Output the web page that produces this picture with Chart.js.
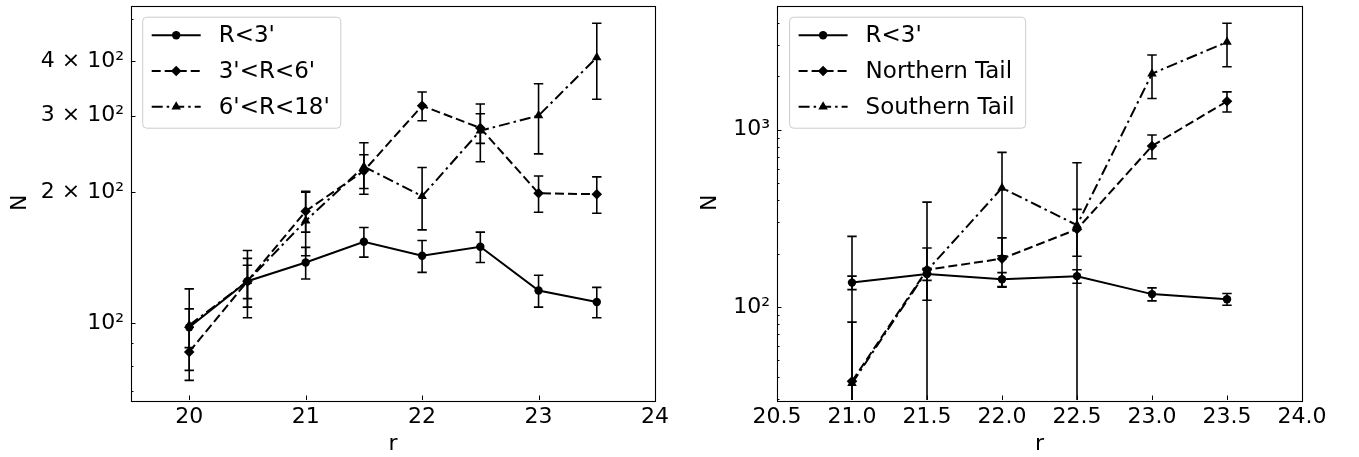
<!DOCTYPE html>
<html>
<head>
<meta charset="utf-8">
<script src="https://cdn.jsdelivr.net/npm/chart.js@4.4.1/dist/chart.umd.min.js"></script>
<style>
    html, body { margin: 0; padding: 0; background: #fff; }
    canvas { position: absolute; top: 0; }
    #leftChart { left: 0; }
    #rightChart { left: 680px; }
</style>
</head>
<body>
<canvas id="leftChart" width="680" height="457"></canvas>
<canvas id="rightChart" width="679" height="457"></canvas>
<script>
// ===========================
// Data
// ===========================

// left panel: radial bins
const magBins = [20, 20.5, 21, 21.5, 22, 22.5, 23, 23.5];
const innerN   = [98, 125, 138, 154, 143, 150, 119, 112];
const innerErr = [10, 11, 11.5, 12, 12, 12, 10, 9];
const midN     = [86, 125, 181, 224, 316, 281, 199, 198];
const midErr   = [12, 16, 19, 20, 24, 22, 19, 19];
const outerN   = [99, 125, 172, 229, 196, 277, 300, 408];
const outerErr = [21, 22, 29, 31, 32, 42, 55, 81];

// right panel: tails
const tailBins  = [21, 21.5, 22, 22.5, 23, 23.5];
const coreN     = [137, 153, 143, 149, 118, 110.5];
const coreErr   = [12, 12, 13, 13, 10, 8.5];
const northN    = [38, 162, 187, 274, 809, 1446];
const northErr  = [44, 53, 58, 81, 124, 187];
const southN    = [37, 160, 469, 289, 2070, 3124];
const southErr  = [213, 230, 275, 362, 570, 860];

// ticks
const leftXTicks = [20, 21, 22, 23, 24];
const leftYMajor = [100, 200, 300, 400];
const leftYLabels = ['10\u00B2', '2 \u00D7 10\u00B2', '3 \u00D7 10\u00B2', '4 \u00D7 10\u00B2'];
const leftYMinor = [70, 80, 90, 500];

const rightXTicks = [20.5, 21, 21.5, 22, 22.5, 23, 23.5, 24];
const rightYMajor = [100, 1000];
const rightYLabels = ['10\u00B2', '10\u00B3'];
const rightYMinor = [30, 40, 50, 60, 70, 80, 90, 200, 300, 400, 500, 600, 700, 800, 900, 2000, 3000, 4000, 5000];

// ===========================
// Styles
// ===========================

const FONT = 'DejaVu Sans';
const SOLID = { dash: [], marker: 'circle', radius: 4.2 };
const DASHED = { dash: [9, 4], marker: 'rectRot', radius: 5.3 };
const DASHDOT = { dash: [11, 4, 2.5, 4], marker: 'triangle', radius: 5.5 };

function series(label, xs, ys, errs, style) {
    return {
        label: label,
        data: xs.map((x, i) => ({ x: x, y: ys[i] })),
        errors: errs,
        borderColor: '#000',
        backgroundColor: '#000',
        borderWidth: 2,
        borderDash: style.dash,
        pointStyle: style.marker,
        pointRadius: style.radius,
        pointBorderWidth: 0,
        tension: 0
    };
}

// ===========================
// Plugins
// ===========================

const errorBars = {
    id: 'errorBars',
    beforeDatasetsDraw(chart) {
        const { ctx, chartArea, scales: { x, y } } = chart;
        ctx.save();
        ctx.beginPath();
        ctx.rect(chartArea.left, chartArea.top, chartArea.width, chartArea.height);
        ctx.clip();
        ctx.strokeStyle = '#000';
        ctx.lineWidth = 1.6;
        chart.data.datasets.forEach(ds => {
            ds.data.forEach((p, i) => {
                const e = ds.errors[i];
                const px = x.getPixelForValue(p.x);
                const hi = y.getPixelForValue(p.y + e);
                const lo = p.y - e > 0 ? y.getPixelForValue(p.y - e) : chartArea.bottom + 20;
                ctx.beginPath();
                ctx.moveTo(px, hi); ctx.lineTo(px, lo);
                ctx.moveTo(px - 4.7, hi); ctx.lineTo(px + 4.7, hi);
                ctx.moveTo(px - 4.7, lo); ctx.lineTo(px + 4.7, lo);
                ctx.stroke();
            });
        });
        ctx.restore();
    }
};

const frameTicks = {
    id: 'frameTicks',
    afterDraw(chart, args, opts) {
        const { ctx, chartArea: a, scales: { x, y } } = chart;
        ctx.save();
        ctx.strokeStyle = '#000';
        ctx.lineWidth = 1;
        ctx.beginPath();
        x.ticks.forEach(t => {
            const px = Math.round(x.getPixelForValue(t.value)) + 0.5;
            ctx.moveTo(px, a.bottom); ctx.lineTo(px, a.bottom - 4.5);
        });
        y.ticks.forEach(t => {
            const py = Math.round(y.getPixelForValue(t.value)) + 0.5;
            ctx.moveTo(a.left, py); ctx.lineTo(a.left + (t.major ? 4.5 : 2.5), py);
        });
        ctx.stroke();
        ctx.lineWidth = 1.1;
        ctx.strokeRect(Math.round(a.left) + 0.5, Math.round(a.top) + 0.5,
            Math.round(a.width), Math.round(a.height));
        ctx.restore();
    }
};

const boxLegend = {
    id: 'boxLegend',
    afterDraw(chart, args, opts) {
        const { ctx, chartArea } = chart;
        const sets = chart.data.datasets;
        ctx.save();
        ctx.font = opts.fontSize + 'px "' + FONT + '"';
        const textW = Math.max(...sets.map(d => ctx.measureText(d.label).width));
        const x0 = chartArea.left + opts.offsetX;
        const y0 = chartArea.top + 11.7;
        const w = 9 + 49 + 18 + textW + 11;
        const h = 111;
        const r = 4;
        ctx.beginPath();
        ctx.moveTo(x0 + r, y0);
        ctx.arcTo(x0 + w, y0, x0 + w, y0 + h, r);
        ctx.arcTo(x0 + w, y0 + h, x0, y0 + h, r);
        ctx.arcTo(x0, y0 + h, x0, y0, r);
        ctx.arcTo(x0, y0, x0 + w, y0, r);
        ctx.closePath();
        ctx.fillStyle = 'rgba(255,255,255,0.8)';
        ctx.fill();
        ctx.strokeStyle = '#cccccc';
        ctx.lineWidth = 1;
        ctx.stroke();

        sets.forEach((ds, i) => {
            const cy = y0 + 18 + i * 35.8;
            const lx = x0 + 9;
            ctx.strokeStyle = '#000';
            ctx.fillStyle = '#000';
            ctx.lineWidth = 2;
            ctx.setLineDash(ds.borderDash);
            ctx.beginPath();
            ctx.moveTo(lx, cy); ctx.lineTo(lx + 49, cy);
            ctx.stroke();
            ctx.setLineDash([]);
            Chart.helpers.drawPoint(ctx, {
                pointStyle: ds.pointStyle, radius: ds.pointRadius, rotation: 0, borderWidth: 0
            }, lx + 24.5, cy);
            ctx.textBaseline = 'middle';
            ctx.textAlign = 'left';
            ctx.fillText(ds.label, lx + 67, cy + 1);
        });
        ctx.restore();
    }
};

// ===========================
// Chart builder
// ===========================

function buildChart(id, cfg) {
    const tickFont = { family: FONT, size: 22 };
    const labelOf = v => {
        const k = cfg.yMajor.indexOf(v);
        return k >= 0 ? cfg.yLabels[k] : '';
    };
    return new Chart(document.getElementById(id), {
        type: 'line',
        data: { datasets: cfg.datasets },
        plugins: [errorBars, frameTicks, boxLegend],
        options: {
            responsive: false,
            animation: false,
            devicePixelRatio: 1,
            layout: { padding: { top: 5, right: cfg.padRight, left: 0, bottom: 0 } },
            plugins: {
                legend: { display: false },
                tooltip: { enabled: false },
                boxLegend: { offsetX: cfg.legendX, fontSize: 23 }
            },
            scales: {
                x: {
                    type: 'linear',
                    min: cfg.xMin,
                    max: cfg.xMax,
                    afterBuildTicks: s => { s.ticks = cfg.xTicks.map(v => ({ value: v })); },
                    afterFit: s => {
                        s.height = 57;
                        s.paddingLeft = 0; s.paddingRight = 0;
                    },
                    ticks: {
                        autoSkip: false, maxRotation: 0, padding: 4,
                        color: '#000', font: tickFont,
                        callback: v => cfg.xFormat(v)
                    },
                    grid: { display: false, drawTicks: false },
                    border: { display: false },
                    title: { display: true, text: 'r', color: '#000', font: tickFont, padding: 0 }
                },
                y: {
                    type: 'logarithmic',
                    min: cfg.yMin,
                    max: cfg.yMax,
                    afterBuildTicks: s => {
                        const vals = cfg.yMajor.concat(cfg.yMinor)
                            .filter(v => v >= cfg.yMin && v <= cfg.yMax)
                            .sort((a, b) => a - b);
                        s.ticks = vals.map(v => ({ value: v, major: cfg.yMajor.includes(v) }));
                    },
                    afterFit: s => {
                        s.width = cfg.yWidth;
                        s.paddingTop = 0; s.paddingBottom = 0;
                    },
                    ticks: {
                        autoSkip: false, padding: 7,
                        color: '#000', font: tickFont,
                        callback: v => labelOf(v)
                    },
                    grid: { display: false, drawTicks: false },
                    border: { display: false },
                    title: {
                        display: true, text: 'N', color: '#000', font: tickFont,
                        padding: { top: cfg.titlePad, bottom: 0 }
                    }
                }
            }
        }
    });
}

buildChart('leftChart', {
    datasets: [
        series("R<3'", magBins, innerN, innerErr, SOLID),
        series("3'<R<6'", magBins, midN, midErr, DASHED),
        series("6'<R<18'", magBins, outerN, outerErr, DASHDOT)
    ],
    xMin: 19.5, xMax: 24, xTicks: leftXTicks, xFormat: v => String(v),
    yMin: 66.7, yMax: 537, yMajor: leftYMajor, yLabels: leftYLabels, yMinor: leftYMinor,
    yWidth: 131, padRight: 25, titlePad: 7, legendX: 11.7
});

buildChart('rightChart', {
    datasets: [
        series("R<3'", tailBins, coreN, coreErr, SOLID),
        series('Northern Tail', tailBins, northN, northErr, DASHED),
        series('Southern Tail', tailBins, southN, southErr, DASHDOT)
    ],
    xMin: 20.5, xMax: 24, xTicks: rightXTicks, xFormat: v => v.toFixed(1),
    yMin: 29.8, yMax: 5020, yMajor: rightYMajor, yLabels: rightYLabels, yMinor: rightYMinor,
    yWidth: 97, padRight: 57, titlePad: 17, legendX: 12.6
});
</script>
</body>
</html>
